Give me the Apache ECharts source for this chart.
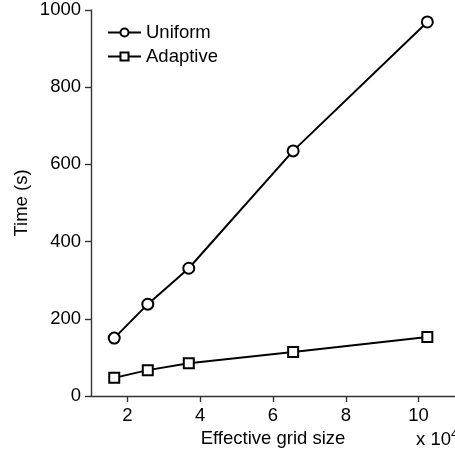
<!DOCTYPE html>
<html><head><meta charset="utf-8">
<script src="https://cdn.jsdelivr.net/npm/echarts@6/dist/echarts.min.js"></script>
<style>html,body{margin:0;padding:0;background:#fff}#c{width:455px;height:459px}</style>
</head><body><div id="c"></div>
<script>
var gridSize = [1.6384, 2.56, 3.6864, 6.5536, 10.24];
var uniform = [150, 238, 331, 635, 969];
var adaptive = [47, 67, 85, 114, 153];
var xTicks = [2, 4, 6, 8, 10];
var yTicks = [0, 200, 400, 600, 800, 1000];
var FONT = "'Liberation Sans', Arial, Helvetica, sans-serif";
var FS = 18.5;
function pairs(xs, ys){ return xs.map(function(x,i){ return [x, ys[i]]; }); }
var chart = echarts.init(document.getElementById('c'), null, {renderer:'canvas'});
chart.setOption({
  animation:false,
  backgroundColor:'#fff',
  grid:{left:91, right:0, top:10, bottom:63, containLabel:false},
  legend:{
    left:102, top:18, orient:'vertical', itemWidth:33, itemHeight:10, itemGap:5,
    textStyle:{fontFamily:FONT, fontSize:FS, color:'#000'},
    data:['Uniform','Adaptive']
  },
  xAxis:{
    type:'value', min:1, max:11,
    name:'Effective grid size', nameLocation:'middle', nameGap:32,
    nameTextStyle:{fontFamily:FONT, fontSize:FS, color:'#000'},
    axisLine:{lineStyle:{color:'#333', width:1.4}},
    axisTick:{inside:false, length:6, lineStyle:{color:'#333', width:1.4}, customValues:xTicks},
    axisLabel:{fontFamily:FONT, fontSize:FS, color:'#000', margin:10, customValues:xTicks},
    splitLine:{show:false}
  },
  yAxis:{
    type:'value', min:0, max:1000, interval:200,
    name:'Time (s)', nameLocation:'middle', nameGap:60, nameRotate:90, nameMoveOverlap:false,
    nameTextStyle:{fontFamily:FONT, fontSize:FS, color:'#000'},
    axisLine:{show:true, lineStyle:{color:'#333', width:1.4}},
    axisTick:{show:true, inside:false, length:6, lineStyle:{color:'#333', width:1.4}},
    axisLabel:{fontFamily:FONT, fontSize:FS, color:'#000', margin:10, formatter:function(v){return String(v);}},
    splitLine:{show:false}
  },
  series:[
    {name:'Uniform', type:'line', data:pairs(gridSize, uniform),
     symbol:'emptyCircle', symbolSize:11,
     lineStyle:{color:'#000', width:2}, itemStyle:{color:'#000', borderColor:'#000', borderWidth:2.2}},
    {name:'Adaptive', type:'line', data:pairs(gridSize, adaptive),
     symbol:'emptyRect', symbolSize:10,
     lineStyle:{color:'#000', width:2}, itemStyle:{color:'#000', borderColor:'#000', borderWidth:2.2}}
  ],
  graphic:[{
    type:'text', left:416, top:428,
    style:{text:'x 10{s|4}', font:FS + 'px ' + FONT, fill:'#000',
      rich:{s:{fontSize:13, verticalAlign:'top', padding:[0,0,10,0], fontFamily:FONT, fill:'#000'}}}
  }]
});
</script></body></html>
